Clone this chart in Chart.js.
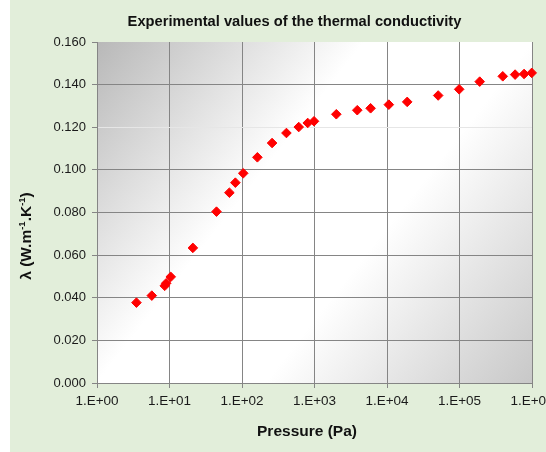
<!DOCTYPE html>
<html>
<head>
<meta charset="utf-8">
<script src="https://cdn.jsdelivr.net/npm/chart.js@4/dist/chart.umd.min.js"></script>
<style>
  body{margin:0;background:#fff}
  #c{display:block}
</style>
</head>
<body>
<canvas id="c" width="546" height="452"></canvas>
<script>
// pressure (Pa) and measured conductivity
var pressure = [3.5, 5.7, 8.6, 9.0, 10.4, 21, 44.5, 67, 81, 104, 163, 260, 410, 606, 806, 985,
  2000, 3890, 5940, 10600, 19000, 50800, 99000, 190000, 395000, 585000, 778000, 991000]
var conductivity = [0.0377, 0.0410, 0.0456, 0.0468, 0.0498, 0.0634, 0.0804, 0.0893, 0.0940, 0.0984,
  0.1059, 0.1126, 0.1173, 0.1201, 0.1220, 0.1228, 0.1261, 0.1280, 0.1289, 0.1306, 0.1319,
  0.1349, 0.1378, 0.1414, 0.1439, 0.1447, 0.1450, 0.1455]
var xTicks = [1, 10, 100, 1000, 10000, 100000, 1000000]
var yTicks = [0, 0.02, 0.04, 0.06, 0.08, 0.10, 0.12, 0.14, 0.16]

var titleText = "Experimental values of the thermal conductivity"
var xTitle = "Pressure (Pa)"
var FONT = '"Liberation Sans", Arial, sans-serif'

var pts = []
for (var i = 0; i <= pressure.length - 1; i++) {
  pts.push({x: pressure[i], y: conductivity[i]})
}

// background: green panel + grey gradient in the plot area, titles on top
var bgPlugin = {
  id: 'bg',
  beforeDraw: function(chart) {
    var ctx = chart.ctx, a = chart.chartArea
    ctx.save()
    ctx.fillStyle = '#e2eeda'
    ctx.fillRect(10, 0, chart.width - 10, chart.height)
    var g = ctx.createLinearGradient(a.left, a.top, a.right, a.bottom)
    g.addColorStop(0, '#b8b8b8')
    g.addColorStop(0.38, '#ffffff')
    g.addColorStop(0.62, '#ffffff')
    g.addColorStop(1, '#c8c8c8')
    ctx.fillStyle = g
    ctx.fillRect(a.left, a.top, a.right - a.left, a.bottom - a.top)
    ctx.restore()
  },
  afterDraw: function(chart) {
    var ctx = chart.ctx
    ctx.save()
    ctx.fillStyle = '#111'
    ctx.textAlign = 'center'
    ctx.textBaseline = 'middle'
    ctx.font = 'bold 14.7px ' + FONT
    ctx.fillText(titleText, 294.5, 22)
    ctx.font = 'bold 15.5px ' + FONT
    ctx.fillText(xTitle, 307, 432)
    // y title with superscripts
    var parts = [['\u03bb (W.m', 15.5, 0], ['-1', 9.5, -6], ['.K', 15.5, 0], ['-1', 9.5, -6], [')', 15.5, 0]]
    var w = 0
    parts.forEach(function(p) {
      ctx.font = 'bold ' + p[1] + 'px ' + FONT
      p.push(ctx.measureText(p[0]).width)
      w += p[3]
    })
    ctx.translate(25, 236)
    ctx.rotate(-Math.PI / 2)
    ctx.textAlign = 'left'
    ctx.textBaseline = 'alphabetic'
    var x = -w / 2
    parts.forEach(function(p) {
      ctx.font = 'bold ' + p[1] + 'px ' + FONT
      ctx.fillText(p[0], x, 6 + p[2])
      x += p[3]
    })
    ctx.restore()
  }
}

new Chart(document.getElementById('c'), {
  type: 'scatter',
  data: {
    datasets: [{
      data: pts,
      pointStyle: 'rectRot',
      pointRadius: 4.8,
      pointHoverRadius: 4.8,
      backgroundColor: '#ff0000',
      borderColor: '#ff0000',
      borderWidth: 1,
      clip: false
    }]
  },
  options: {
    responsive: false,
    animation: false,
    events: [],
    layout: {padding: {left: 0, right: 14, top: 42, bottom: 0}},
    plugins: {legend: {display: false}, tooltip: {enabled: false}, title: {display: false}},
    scales: {
      x: {
        type: 'logarithmic',
        min: 1,
        max: 1000000,
        afterBuildTicks: function(s) { s.ticks = xTicks.map(function(v) { return {value: v} }) },
        afterFit: function(s) { s.height = 69; s.paddingLeft = 0; s.paddingRight = 0 },
        ticks: {
          autoSkip: false,
          maxRotation: 0,
          padding: 5,
          color: '#1a1a1a',
          font: {family: FONT, size: 13.5},
          callback: function(v) {
            return '1.E+' + String(Math.round(Math.log10(v))).padStart(2, '0')
          }
        },
        grid: {color: '#858585', tickColor: '#858585', tickLength: 5, lineWidth: 1},
        border: {color: '#858585'}
      },
      y: {
        min: 0,
        max: 0.16,
        afterBuildTicks: function(s) { s.ticks = yTicks.map(function(v) { return {value: v} }) },
        afterFit: function(s) { s.width = 97 },
        ticks: {
          padding: 6,
          color: '#1a1a1a',
          font: {family: FONT, size: 13},
          callback: function(v) { return v.toFixed(3) }
        },
        grid: {
          color: function(c) {
            if (c.tick && Math.abs(c.tick.value - 0.12) < 1e-9) return '#e6e6e6'
            if (c.tick && Math.abs(c.tick.value - 0.16) < 1e-9) return 'rgba(0,0,0,0)'
            return '#858585'
          },
          tickColor: '#858585', tickLength: 5, lineWidth: 1
        },
        border: {color: '#858585'}
      }
    }
  },
  plugins: [bgPlugin]
})
</script>
</body>
</html>
